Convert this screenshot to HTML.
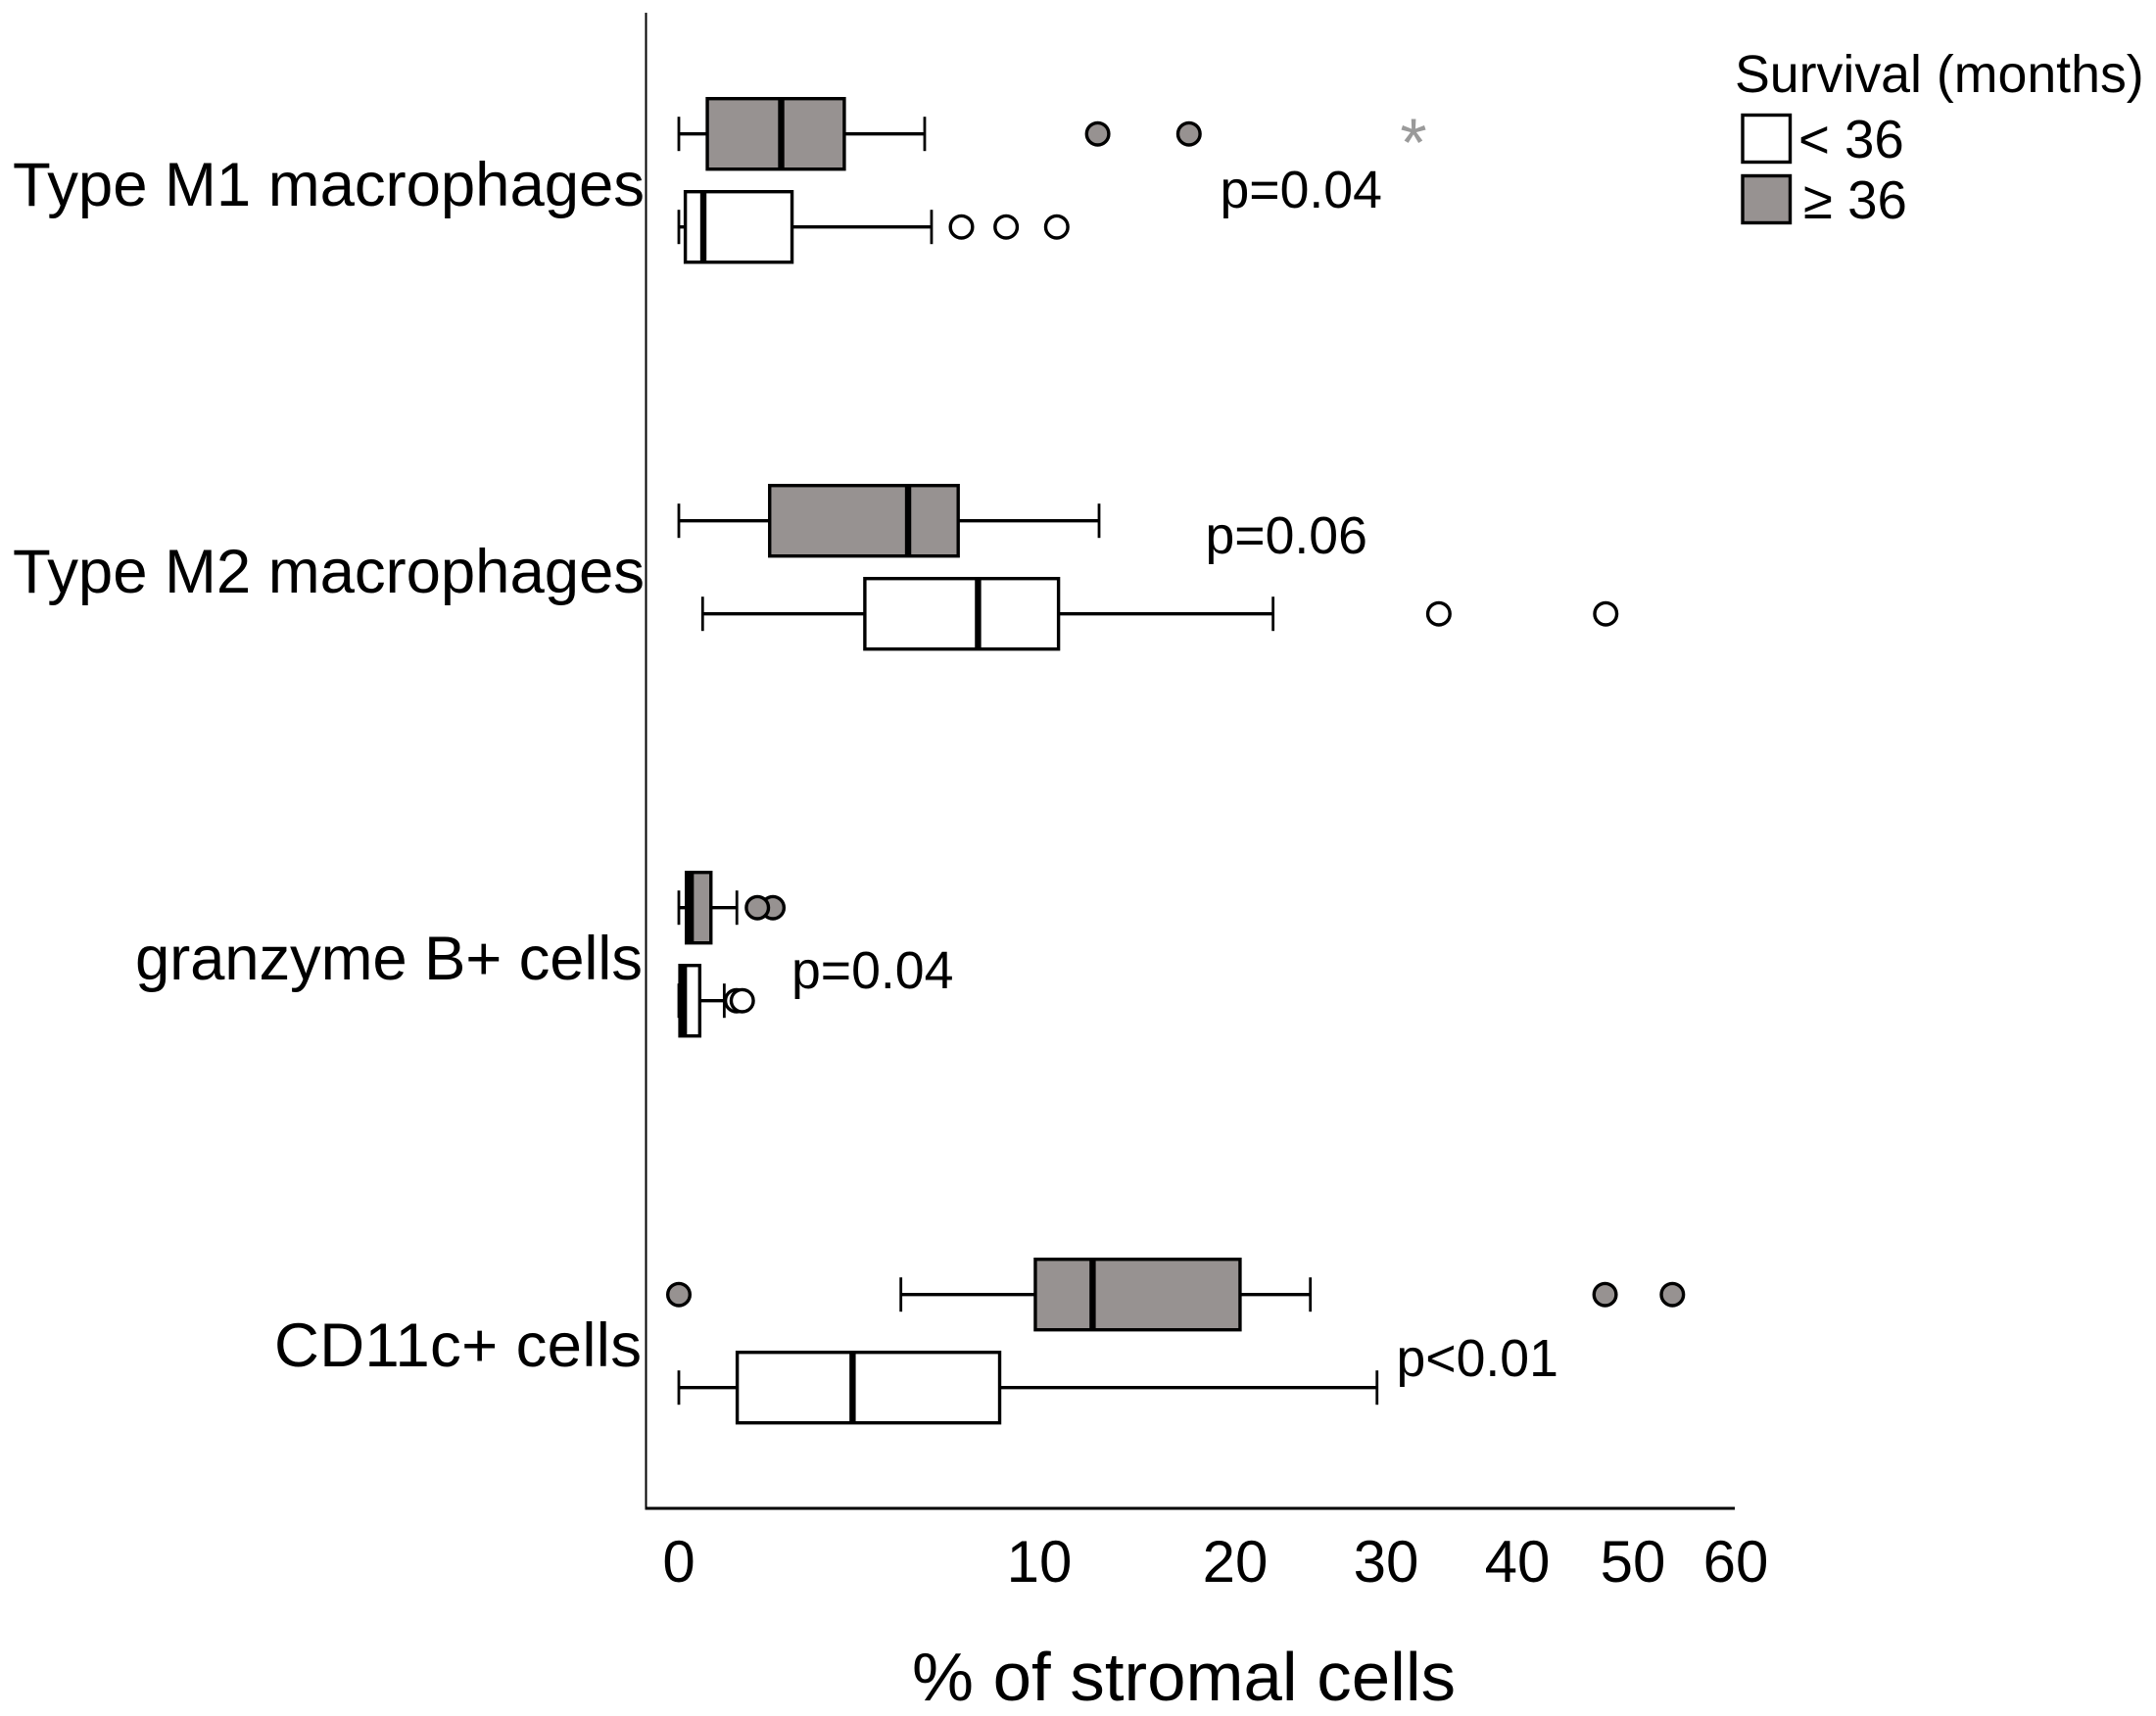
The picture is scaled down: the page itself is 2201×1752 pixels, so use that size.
<!DOCTYPE html>
<html lang="en">
<head>
<meta charset="utf-8">
<title>Stromal cells by survival</title>
<style>
html,body{margin:0;padding:0;background:#fff}
svg{display:block}
text{font-family:"Liberation Sans",Arial,sans-serif;fill:#000}
</style>
</head>
<body>
<svg id="chart" xmlns="http://www.w3.org/2000/svg" width="2201" height="1752" viewBox="0 0 2201 1752">
  <rect x="0" y="0" width="2201" height="1752" fill="#fff"/>
  <line x1="659.5" y1="13" x2="659.5" y2="1540" stroke="#000" stroke-width="2"/>
  <line x1="658.5" y1="1540" x2="1771" y2="1540" stroke="#000" stroke-width="3"/>
  <g id="marks"></g>
  <g id="ticks"></g>
  <g>
    <text x="13" y="210" font-size="63.5" textLength="645" lengthAdjust="spacing">Type M1 macrophages</text>
    <text x="13" y="605" font-size="63.5" textLength="645" lengthAdjust="spacing">Type M2 macrophages</text>
    <text x="138" y="1000" font-size="63.5" textLength="518" lengthAdjust="spacing">granzyme B+ cells</text>
    <text x="280" y="1395" font-size="63.5" textLength="375" lengthAdjust="spacing">CD11c+ cells</text>
  </g>
  <text x="931" y="1736" font-size="70" textLength="555" lengthAdjust="spacingAndGlyphs">% of stromal cells</text>

  <text x="1245.5" y="212" font-size="53.6">p=0.04</text>
  <text x="1230.5" y="565" font-size="53.6">p=0.06</text>
  <text x="808" y="1009" font-size="53.6">p=0.04</text>
  <text x="1425.5" y="1405" font-size="53.6">p&lt;0.01</text>

  <g>
    <text x="1771" y="94" font-size="53.7">Survival (months)</text>
    <rect x="1779" y="117.5" width="48.5" height="48" fill="#fff" stroke="#000" stroke-width="3.4"/>
    <text x="1836" y="161" font-size="54.6">&lt; 36</text>
    <rect x="1779" y="179.5" width="48.5" height="48" fill="#979291" stroke="#000" stroke-width="3.4"/>
    <text x="1841" y="223" font-size="54.6">≥ 36</text>
  </g>
</svg>
<script>
// ---- chart data (% of stromal cells) ----
const categories = ["Type M1 macrophages", "Type M2 macrophages", "granzyme B+ cells", "CD11c+ cells"];
const tickValues = [0, 10, 20, 30, 40, 50, 60];
const tickLabels = ["0", "10", "20", "30", "40", "50", "60"];

// five-number summaries: [low whisker, Q1, median, Q3, high whisker]
const longSurvivalStats = [
  [0, 0.79, 2.84, 4.59, 6.82],
  [0, 2.52, 6.36, 7.75, 13.05],
  [0, 0.21, 0.33, 0.89, 1.61],
  [6.16, 9.89, 12.72, 20.32, 24.98]
];
const shortSurvivalStats = [
  [0, 0.18, 0.68, 3.14, 7.01],
  [0.66, 5.16, 8.30, 10.98, 22.51],
  [0, 0.03, 0.14, 0.58, 1.26],
  [0, 1.62, 4.82, 8.90, 29.4]
];
const longSurvivalOutliers = [
  [12.98, 17.64],
  [],
  [2.61, 2.18],
  [0, 47.59, 53.84]
];
const shortSurvivalOutliers = [
  [7.84, 9.08, 10.89],
  [34.02, 47.65],
  [1.6, 1.76],
  []
];
const longSurvivalExtremes = [[32.09], [], [], []];

// ---- axis functions ----
// The published x axis is non-linear: each tick interval has its own pixel span.
function xScale(v) {
  const domain = [0, 10, 20, 30, 40, 50, 60];
  const range = [693, 1061, 1261, 1415, 1549, 1667, 1772];
  let i = 0;
  while (i < domain.length - 2 && v > domain[i + 1]) i++;
  return range[i] + (v - domain[i]) * (range[i + 1] - range[i]) / (domain[i + 1] - domain[i]);
}
function yCategory(i) { return 184.2 + 395 * i; }

const NS = "http://www.w3.org/2000/svg";
function mk(parent, tag, attrs, text) {
  const el = document.createElementNS(NS, tag);
  for (const k in attrs) el.setAttribute(k, attrs[k]);
  if (text !== undefined) el.textContent = text;
  parent.appendChild(el);
  return el;
}

const marks = document.getElementById("marks");
const GRAY = "#979291";

function drawBox(catIndex, groupName, stats, outliers, extremes, cy, fill) {
  const g = mk(marks, "g", {});
  
  
  const [lo, q1, med, q3, hi] = stats;
  const halfBox = 36, halfCap = 17.5;

  const wl = mk(g, "line", {x1: xScale(lo), x2: xScale(q1), y1: cy, y2: cy, stroke: "#000", "stroke-width": 3.4});
  
  
  const wh = mk(g, "line", {x1: xScale(q3), x2: xScale(hi), y1: cy, y2: cy, stroke: "#000", "stroke-width": 3.4});
  
  
  const cl = mk(g, "line", {x1: xScale(lo), x2: xScale(lo), y1: cy - halfCap, y2: cy + halfCap, stroke: "#000", "stroke-width": 2.8});
  
  
  const ch = mk(g, "line", {x1: xScale(hi), x2: xScale(hi), y1: cy - halfCap, y2: cy + halfCap, stroke: "#000", "stroke-width": 2.8});
  
  

  const box = mk(g, "rect", {x: xScale(q1), y: cy - halfBox, width: xScale(q3) - xScale(q1), height: halfBox * 2, fill: fill, stroke: "#000", "stroke-width": 3.4});
  
  
  const m = mk(g, "line", {x1: xScale(med), x2: xScale(med), y1: cy - halfBox, y2: cy + halfBox, stroke: "#000", "stroke-width": 6.4});
  
  

  outliers.forEach(function (v) {
    const c = mk(g, "circle", {cx: xScale(v), cy: cy, r: 11.3, fill: fill, stroke: "#000", "stroke-width": 3.4});
    
    
  });
  extremes.forEach(function (v) {
    const s = mk(g, "text", {x: xScale(v), y: cy + 33, "font-size": 70, "text-anchor": "middle", style: "fill:#9a9a9a"}, "*");
    
    
  });
}

categories.forEach(function (name, i) {
  const c = yCategory(i);
  drawBox(i, 'survival-over-36', longSurvivalStats[i], longSurvivalOutliers[i], longSurvivalExtremes[i], c - 47.5, GRAY);
  drawBox(i, 'survival-under-36', shortSurvivalStats[i], shortSurvivalOutliers[i], [], c + 47.5, "#fff");
});

tickValues.forEach(function (v, i) {
  const t = mk(document.getElementById("ticks"), "text", {x: xScale(v), y: 1615, "font-size": 60, "text-anchor": "middle"}, tickLabels[i]);
  
  
});
</script>
</body>
</html>
